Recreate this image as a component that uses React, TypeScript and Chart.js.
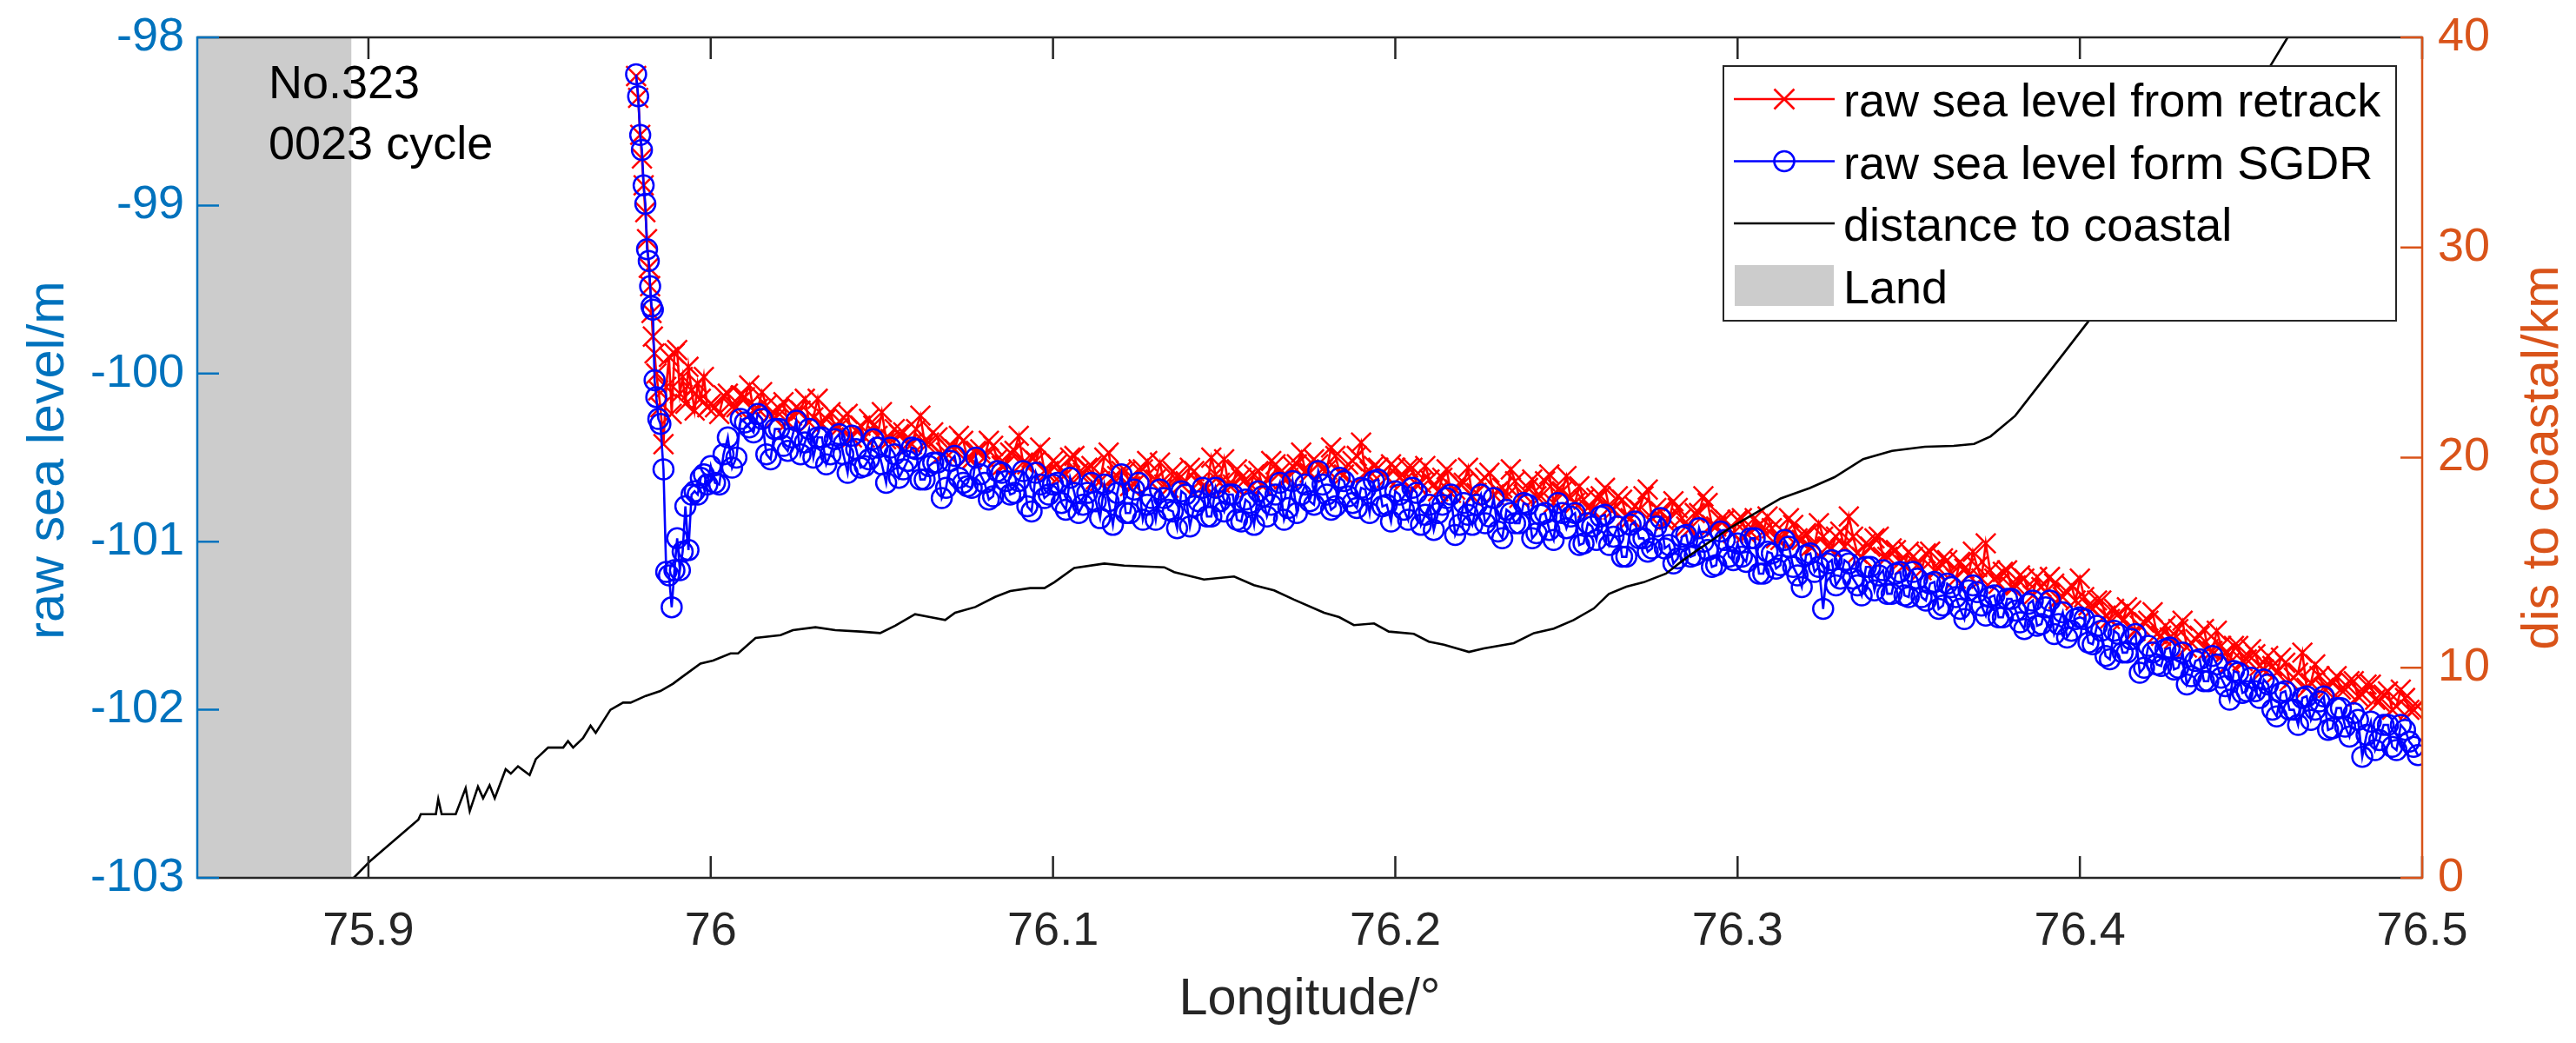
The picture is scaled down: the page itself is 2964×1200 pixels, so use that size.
import React, { useEffect, useRef } from "react";
import { Chart, registerables } from "chart.js";

Chart.register(...registerables);

// ---------------- data ----------------
// along-track longitudes (deg), first pass of samples
const LON = [
  75.9782, 75.9788, 75.9794, 75.9799, 75.9804, 75.9809, 75.9814, 75.9819, 75.9823, 75.9827,
  75.9831, 75.9836, 75.9841, 75.9847, 75.9853, 75.9862, 75.987, 75.9878, 75.9886, 75.9894,
  75.9902, 75.991, 75.9918, 75.9926, 75.9935, 75.9944, 75.9953, 75.9962, 75.9971, 75.998, 75.999,
  76.0, 76.0025, 76.005, 76.0075, 76.01, 76.0125, 76.015, 76.0175, 76.02, 76.0225,
  76.025, 76.0275, 76.03, 76.0325, 76.035, 76.0375, 76.04, 76.0425, 76.045, 76.0475,
  76.05, 76.0525, 76.055, 76.0575, 76.06, 76.0625, 76.065, 76.0675, 76.07, 76.0725,
  76.075, 76.0775, 76.08, 76.0825, 76.085, 76.0875, 76.09, 76.0925, 76.095, 76.0975,
  76.1, 76.1025, 76.105, 76.1075, 76.11, 76.1125, 76.115, 76.1175, 76.12, 76.1225,
  76.125, 76.1275, 76.13, 76.1325, 76.135, 76.1375, 76.14, 76.1425, 76.145, 76.1475,
  76.15, 76.1525, 76.155, 76.1575, 76.16, 76.1625, 76.165, 76.1675, 76.17, 76.1725,
  76.175, 76.1775, 76.18, 76.1825, 76.185, 76.1875, 76.19, 76.1925, 76.195, 76.1975,
  76.2, 76.2025, 76.205, 76.2075, 76.21, 76.2125, 76.215, 76.2175, 76.22, 76.2225,
  76.225, 76.2275, 76.23, 76.2325, 76.235, 76.2375, 76.24, 76.2425, 76.245, 76.2475,
  76.25, 76.2525, 76.255, 76.2575, 76.26, 76.2625, 76.265, 76.2675, 76.27, 76.2725,
  76.275, 76.2775, 76.28, 76.2825, 76.285, 76.2875, 76.29, 76.2925, 76.295, 76.2975,
  76.3, 76.3025, 76.305, 76.3075, 76.31, 76.3125, 76.315, 76.3175, 76.32, 76.3225,
  76.325, 76.3275, 76.33, 76.3325, 76.335, 76.3375, 76.34, 76.3425, 76.345, 76.3475,
  76.35, 76.3525, 76.355, 76.3575, 76.36, 76.3625, 76.365, 76.3675, 76.37, 76.3725,
  76.375, 76.3775, 76.38, 76.3825, 76.385, 76.3875, 76.39, 76.3925, 76.395, 76.3975,
  76.4, 76.4025, 76.405, 76.4075, 76.41, 76.4125, 76.415, 76.4175, 76.42, 76.4225,
  76.425, 76.4275, 76.43, 76.4325, 76.435, 76.4375, 76.44, 76.4425, 76.445, 76.4475,
  76.45, 76.4525, 76.455, 76.4575, 76.46, 76.4625, 76.465, 76.4675, 76.47, 76.4725,
  76.475, 76.4775, 76.48, 76.4825, 76.485, 76.4875, 76.49, 76.4925, 76.495, 76.4975,
];

// raw sea level from retrack (m), first pass
const RETRACK = [
  -98.23, -98.36, -98.58, -98.72, -98.88, -99.04, -99.2, -99.37, -99.48, -99.64,
  -99.78, -99.88, -100.0, -100.1, -100.2, -100.42, -100.08, -99.9, -100.24, -99.88,
  -99.86, -100.12, -100.02, -100.18, -99.96, -100.1, -100.22, -100.06, -100.15, -100.02, -100.2,
  -100.18, -100.24, -100.12, -100.2, -100.14, -100.22, -100.11, -100.24, -100.21, -100.29,
  -100.2, -100.15, -100.26, -100.3, -100.23, -100.32, -100.24, -100.34, -100.38, -100.31,
  -100.23, -100.39, -100.36, -100.42, -100.33, -100.41, -100.35, -100.48, -100.43, -100.37,
  -100.5, -100.46, -100.5, -100.43, -100.55, -100.47, -100.37, -100.54, -100.52, -100.58,
  -100.52, -100.6, -100.5, -100.59, -100.56, -100.63, -100.5, -100.62, -100.58, -100.67,
  -100.57, -100.52, -100.63, -100.66, -100.58, -100.66, -100.56, -100.65, -100.68, -100.6,
  -100.51, -100.66, -100.62, -100.68, -100.58, -100.63, -100.54, -100.63, -100.55, -100.47,
  -100.59, -100.54, -100.57, -100.49, -100.6, -100.52, -100.41, -100.58, -100.56, -100.62,
  -100.56, -100.64, -100.56, -100.65, -100.63, -100.7, -100.57, -100.69, -100.65, -100.73,
  -100.64, -100.59, -100.7, -100.73, -100.64, -100.72, -100.63, -100.73, -100.6, -100.69,
  -100.61, -100.77, -100.75, -100.81, -100.73, -100.8, -100.73, -100.85, -100.79, -100.73,
  -100.86, -100.82, -100.87, -100.8, -100.91, -100.83, -100.73, -100.9, -100.87, -100.93,
  -100.87, -100.95, -100.86, -100.94, -100.92, -100.99, -100.86, -100.98, -100.95, -101.02,
  -100.97, -101.04, -100.94, -100.85, -101.07, -101.01, -100.98, -101.09, -101.04, -101.12,
  -101.06, -101.14, -101.07, -101.17, -101.1, -101.19, -101.12, -101.2, -101.15, -101.01,
  -101.22, -101.18, -101.27, -101.2, -101.29, -101.21, -101.3, -101.25, -101.33, -101.26,
  -101.22, -101.38, -101.35, -101.44, -101.4, -101.47, -101.41, -101.5, -101.47, -101.55,
  -101.5, -101.58, -101.47, -101.6, -101.56, -101.64, -101.53, -101.66, -101.62, -101.71,
  -101.64, -101.74, -101.68, -101.78, -101.72, -101.81, -101.66, -101.84, -101.8, -101.87,
  -101.8, -101.88, -101.83, -101.91, -101.85, -101.95, -101.89, -101.98, -101.93, -102.0,
];

// raw sea level from SGDR (m), first pass
const SGDR = [
  -98.22, -98.35, -98.58, -98.67, -98.88, -98.99, -99.26, -99.33, -99.48, -99.6,
  -99.62, -100.04, -100.14, -100.27, -100.3, -100.57, -101.18, -101.2, -101.39, -101.17,
  -100.98, -101.17, -101.06, -100.79, -101.05, -100.72, -100.7, -100.72, -100.62, -100.6, -100.66,
  -100.55, -100.66, -100.38, -100.5, -100.29, -100.35, -100.27, -100.51, -100.33, -100.46,
  -100.28, -100.41, -100.5, -100.38, -100.48, -100.36, -100.59, -100.45, -100.55, -100.39,
  -100.54, -100.44, -100.62, -100.52, -100.45, -100.63, -100.53, -100.74, -100.52, -100.62,
  -100.67, -100.5, -100.65, -100.73, -100.59, -100.72, -100.64, -100.79, -100.59, -100.74,
  -100.66, -100.77, -100.62, -100.83, -100.71, -100.76, -100.66, -100.9, -100.6, -100.83,
  -100.65, -100.78, -100.87, -100.74, -100.82, -100.7, -100.91, -100.76, -100.85, -100.68,
  -100.82, -100.72, -100.88, -100.77, -100.7, -100.85, -100.72, -100.87, -100.64, -100.72,
  -100.76, -100.58, -100.72, -100.79, -100.64, -100.77, -100.68, -100.83, -100.63, -100.78,
  -100.7, -100.81, -100.68, -100.9, -100.78, -100.83, -100.74, -100.96, -100.77, -100.9,
  -100.72, -100.85, -100.94, -100.81, -100.89, -100.77, -100.98, -100.84, -100.93, -100.77,
  -100.92, -100.83, -101.01, -100.91, -100.85, -101.02, -100.91, -101.09, -100.88, -100.98,
  -101.04, -100.86, -101.02, -101.1, -100.96, -101.08, -101.0, -101.15, -100.94, -101.09,
  -101.01, -101.12, -100.98, -101.19, -101.07, -101.14, -101.03, -101.2, -101.08, -101.18,
  -101.4, -101.11, -101.22, -101.13, -101.26, -101.15, -101.29, -101.17, -101.31, -101.18,
  -101.33, -101.22, -101.35, -101.24, -101.38, -101.27, -101.4, -101.29, -101.3, -101.44,
  -101.32, -101.45, -101.34, -101.48, -101.37, -101.5, -101.39, -101.55, -101.42, -101.53,
  -101.45, -101.6, -101.5, -101.68, -101.53, -101.66, -101.58, -101.78, -101.62, -101.73,
  -101.64, -101.76, -101.66, -101.8, -101.7, -101.83, -101.73, -101.86, -101.77, -101.9,
  -101.81, -101.93, -101.85, -102.04, -101.89, -102.0, -101.93, -102.06, -101.95, -102.12,
  -101.99, -102.1, -102.02, -102.28, -102.07, -102.18, -102.09, -102.24, -102.12, -102.22,
];

// second pass of samples, between the first-pass longitudes
const LON_B = [
  76.00125, 76.00375, 76.00625, 76.00875, 76.01125, 76.01375, 76.01625, 76.01875, 76.02125, 76.02375,
  76.02625, 76.02875, 76.03125, 76.03375, 76.03625, 76.03875, 76.04125, 76.04375, 76.04625, 76.04875,
  76.05125, 76.05375, 76.05625, 76.05875, 76.06125, 76.06375, 76.06625, 76.06875, 76.07125, 76.07375,
  76.07625, 76.07875, 76.08125, 76.08375, 76.08625, 76.08875, 76.09125, 76.09375, 76.09625, 76.09875,
  76.10125, 76.10375, 76.10625, 76.10875, 76.11125, 76.11375, 76.11625, 76.11875, 76.12125, 76.12375,
  76.12625, 76.12875, 76.13125, 76.13375, 76.13625, 76.13875, 76.14125, 76.14375, 76.14625, 76.14875,
  76.15125, 76.15375, 76.15625, 76.15875, 76.16125, 76.16375, 76.16625, 76.16875, 76.17125, 76.17375,
  76.17625, 76.17875, 76.18125, 76.18375, 76.18625, 76.18875, 76.19125, 76.19375, 76.19625, 76.19875,
  76.20125, 76.20375, 76.20625, 76.20875, 76.21125, 76.21375, 76.21625, 76.21875, 76.22125, 76.22375,
  76.22625, 76.22875, 76.23125, 76.23375, 76.23625, 76.23875, 76.24125, 76.24375, 76.24625, 76.24875,
  76.25125, 76.25375, 76.25625, 76.25875, 76.26125, 76.26375, 76.26625, 76.26875, 76.27125, 76.27375,
  76.27625, 76.27875, 76.28125, 76.28375, 76.28625, 76.28875, 76.29125, 76.29375, 76.29625, 76.29875,
  76.30125, 76.30375, 76.30625, 76.30875, 76.31125, 76.31375, 76.31625, 76.31875, 76.32125, 76.32375,
  76.32625, 76.32875, 76.33125, 76.33375, 76.33625, 76.33875, 76.34125, 76.34375, 76.34625, 76.34875,
  76.35125, 76.35375, 76.35625, 76.35875, 76.36125, 76.36375, 76.36625, 76.36875, 76.37125, 76.37375,
  76.37625, 76.37875, 76.38125, 76.38375, 76.38625, 76.38875, 76.39125, 76.39375, 76.39625, 76.39875,
  76.40125, 76.40375, 76.40625, 76.40875, 76.41125, 76.41375, 76.41625, 76.41875, 76.42125, 76.42375,
  76.42625, 76.42875, 76.43125, 76.43375, 76.43625, 76.43875, 76.44125, 76.44375, 76.44625, 76.44875,
  76.45125, 76.45375, 76.45625, 76.45875, 76.46125, 76.46375, 76.46625, 76.46875, 76.47125, 76.47375,
  76.47625, 76.47875, 76.48125, 76.48375, 76.48625, 76.48875, 76.49125, 76.49375, 76.49625, 76.49875,
];

const RETRACK_B = [
  -100.2, -100.13, -100.2, -100.13, -100.07, -100.21, -100.19, -100.27, -100.17, -100.25,
  -100.22, -100.29, -100.15, -100.27, -100.32, -100.26, -100.38, -100.31, -100.27, -100.37,
  -100.39, -100.33, -100.35, -100.42, -100.25, -100.41, -100.38, -100.47, -100.45, -100.4,
  -100.51, -100.45, -100.4, -100.51, -100.54, -100.46, -100.53, -100.5, -100.44, -100.58,
  -100.54, -100.6, -100.49, -100.59, -100.55, -100.64, -100.47, -100.61, -100.58, -100.66,
  -100.57, -100.65, -100.53, -100.68, -100.61, -100.64, -100.58, -100.67, -100.5, -100.65,
  -100.66, -100.57, -100.63, -100.6, -100.67, -100.52, -100.59, -100.62, -100.54, -100.58,
  -100.51, -100.57, -100.44, -100.59, -100.54, -100.49, -100.59, -100.55, -100.59, -100.54,
  -100.62, -100.56, -100.66, -100.55, -100.66, -100.62, -100.71, -100.65, -100.56, -100.71,
  -100.62, -100.72, -100.68, -100.57, -100.74, -100.68, -100.73, -100.64, -100.77, -100.7,
  -100.74, -100.67, -100.8, -100.74, -100.68, -100.81, -100.75, -100.86, -100.81, -100.69,
  -100.8, -100.88, -100.76, -100.86, -100.92, -100.83, -100.77, -100.91, -100.87, -100.95,
  -100.86, -100.94, -100.9, -100.85, -100.98, -100.95, -100.9, -100.99, -101.03, -100.89,
  -101.03, -100.97, -101.03, -100.97, -101.09, -101.03, -100.97, -101.09, -101.05, -101.14,
  -101.09, -101.17, -101.06, -101.16, -101.11, -101.22, -101.16, -101.06, -101.22, -101.17,
  -101.25, -101.17, -101.26, -101.22, -101.32, -101.27, -101.21, -101.34, -101.3, -101.35,
  -101.33, -101.4, -101.35, -101.46, -101.43, -101.39, -101.53, -101.48, -101.42, -101.56,
  -101.57, -101.52, -101.63, -101.58, -101.52, -101.65, -101.62, -101.72, -101.62, -101.7,
  -101.67, -101.76, -101.74, -101.69, -101.83, -101.78, -101.87, -101.73, -101.87, -101.84,
  -101.88, -101.83, -101.92, -101.85, -101.94, -101.91, -102.0, -101.88, -102.0, -101.98,
];

const SGDR_B = [
  -100.65, -100.48, -100.56, -100.27, -100.32, -100.24, -100.48, -100.33, -100.43, -100.38,
  -100.48, -100.33, -100.38, -100.54, -100.39, -100.48, -100.37, -100.56, -100.51, -100.44,
  -100.65, -100.48, -100.57, -100.44, -100.63, -100.55, -100.53, -100.68, -100.49, -100.65,
  -100.68, -100.6, -100.75, -100.58, -100.64, -100.71, -100.58, -100.82, -100.66, -100.72,
  -100.65, -100.81, -100.71, -100.78, -100.65, -100.86, -100.76, -100.71, -100.83, -100.69,
  -100.87, -100.74, -100.69, -100.81, -100.92, -100.72, -100.79, -100.68, -100.85, -100.76,
  -100.72, -100.87, -100.75, -100.9, -100.73, -100.78, -100.65, -100.8, -100.83, -100.66,
  -100.78, -100.66, -100.81, -100.62, -100.73, -100.8, -100.69, -100.64, -100.79, -100.88,
  -100.72, -100.87, -100.71, -100.84, -100.93, -100.78, -100.72, -100.9, -100.84, -100.78,
  -100.89, -100.74, -100.98, -100.83, -100.89, -100.78, -100.95, -100.83, -100.99, -100.83,
  -100.85, -101.02, -100.89, -100.99, -100.84, -100.97, -101.09, -100.9, -100.98, -101.06,
  -100.91, -101.04, -101.13, -100.97, -101.09, -100.92, -101.05, -101.14, -100.99, -101.11,
  -101.09, -100.98, -101.19, -101.06, -101.16, -100.99, -101.15, -101.27, -101.07, -101.15,
  -101.13, -101.26, -101.11, -101.22, -101.32, -101.15, -101.2, -101.31, -101.19, -101.32,
  -101.18, -101.33, -101.25, -101.4, -101.25, -101.33, -101.46, -101.26, -101.38, -101.33,
  -101.45, -101.34, -101.41, -101.52, -101.35, -101.49, -101.35, -101.49, -101.57, -101.46,
  -101.46, -101.61, -101.53, -101.7, -101.55, -101.66, -101.55, -101.75, -101.66, -101.74,
  -101.63, -101.75, -101.85, -101.71, -101.83, -101.68, -101.81, -101.94, -101.78, -101.89,
  -101.89, -101.82, -102.0, -101.9, -102.0, -102.09, -101.92, -102.0, -101.92, -102.11,
  -101.99, -102.16, -102.06, -102.15, -102.24, -102.09, -102.22, -102.09, -102.19, -102.27,
];

// distance to coastal: [longitude, km]
const DISTANCE = [
  [75.8957, 0.0], [75.9007, 0.83], [75.9146, 2.77], [75.9153, 3.03], [75.9197, 3.03],
  [75.9204, 3.75], [75.9214, 3.03], [75.9255, 3.03], [75.9284, 4.27], [75.9296, 3.17],
  [75.932, 4.34], [75.9335, 3.79], [75.9354, 4.41], [75.9369, 3.79], [75.9401, 5.17],
  [75.9416, 4.96], [75.9437, 5.31], [75.9471, 4.89], [75.9489, 5.65], [75.9525, 6.2],
  [75.9569, 6.2], [75.9583, 6.51], [75.9598, 6.2], [75.9627, 6.65], [75.9649, 7.24],
  [75.9664, 6.9], [75.9707, 8.0], [75.9744, 8.34], [75.9766, 8.34], [75.981, 8.66],
  [75.9853, 8.89], [75.989, 9.24], [75.9912, 9.51], [75.997, 10.2], [76.0007, 10.34],
  [76.0058, 10.68], [76.008, 10.68], [76.0131, 11.42], [76.0204, 11.55], [76.024, 11.79],
  [76.0306, 11.93], [76.0364, 11.79], [76.0437, 11.72], [76.0495, 11.65], [76.0539, 12.0],
  [76.0597, 12.55], [76.0641, 12.41], [76.0685, 12.27], [76.0714, 12.62], [76.0773, 12.89],
  [76.0831, 13.37], [76.0875, 13.65], [76.0933, 13.79], [76.0975, 13.79], [76.1004, 14.07],
  [76.1062, 14.75], [76.115, 14.96], [76.1208, 14.86], [76.1325, 14.78], [76.1354, 14.55],
  [76.1441, 14.2], [76.1529, 14.34], [76.1587, 13.93], [76.1646, 13.68], [76.1704, 13.24],
  [76.1792, 12.62], [76.1836, 12.41], [76.1879, 12.03], [76.1938, 12.11], [76.1981, 11.72],
  [76.2054, 11.61], [76.2098, 11.24], [76.2142, 11.1], [76.2186, 10.89], [76.2215, 10.75],
  [76.2259, 10.92], [76.2346, 11.17], [76.2405, 11.65], [76.2463, 11.86], [76.2521, 12.27],
  [76.258, 12.82], [76.2624, 13.51], [76.2675, 13.86], [76.2726, 14.07], [76.2791, 14.48],
  [76.2834, 15.03], [76.2857, 15.31], [76.298, 16.68], [76.3126, 18.06], [76.3211, 18.55],
  [76.3283, 19.07], [76.3367, 19.93], [76.3451, 20.32], [76.3547, 20.52], [76.3631, 20.56],
  [76.3691, 20.65], [76.3739, 21.01], [76.3811, 21.99], [76.3883, 23.5], [76.3955, 25.01],
  [76.4027, 26.53], [76.43, 32.2], [76.445, 35.5], [76.4556, 38.63], [76.4607, 40.0],
  [76.468, 41.6],
];

const X_TICKS = [75.9, 76, 76.1, 76.2, 76.3, 76.4, 76.5];
const X_TICK_LABELS = ["75.9", "76", "76.1", "76.2", "76.3", "76.4", "76.5"];
const Y_LEFT_TICKS = [-103, -102, -101, -100, -99, -98];
const Y_RIGHT_TICKS = [0, 10, 20, 30, 40];
const LAND_RANGE = [75.85, 75.895];
const SERIES_NAMES = [
  "raw sea level from retrack",
  "raw sea level form SGDR",
  "distance to coastal",
  "Land",
];
const ANNOTATION = ["No.323", "0023 cycle"];

// ---------------- styles ----------------
const FONT = "'Liberation Sans', Arial, Helvetica, sans-serif";
const LEFT_COLOR = "#0072BD";
const RIGHT_COLOR = "#D95319";
const DARK = "#262626";
const RED = "#FF0000";
const BLUE = "#0000FF";
const LAND_COLOR = "#CCCCCC";
const TICK_LEN = 25;

const matlabAxes = {
  id: "matlabAxes",
  beforeDatasetsDraw(chart: any) {
    const { ctx, chartArea: a, scales } = chart;
    const x0 = scales.x.getPixelForValue(LAND_RANGE[0]);
    const x1 = scales.x.getPixelForValue(LAND_RANGE[1]);
    ctx.save();
    ctx.fillStyle = LAND_COLOR;
    ctx.fillRect(x0, a.top, x1 - x0, a.bottom - a.top);
    ctx.restore();
  },
  afterDatasetsDraw(chart: any) {
    const { ctx, chartArea: a, scales } = chart;
    const xs = scales.x;
    const yl = scales.y;
    const yr = scales.y1;
    ctx.save();
    ctx.lineCap = "butt";
    ctx.lineWidth = 2.5;

    ctx.strokeStyle = DARK;
    ctx.beginPath();
    ctx.moveTo(a.left, a.top);
    ctx.lineTo(a.right, a.top);
    ctx.moveTo(a.left, a.bottom);
    ctx.lineTo(a.right, a.bottom);
    for (const v of X_TICKS) {
      const px = xs.getPixelForValue(v);
      ctx.moveTo(px, a.bottom);
      ctx.lineTo(px, a.bottom - TICK_LEN);
      ctx.moveTo(px, a.top);
      ctx.lineTo(px, a.top + TICK_LEN);
    }
    ctx.stroke();

    ctx.strokeStyle = LEFT_COLOR;
    ctx.beginPath();
    ctx.moveTo(a.left, a.top - 1.25);
    ctx.lineTo(a.left, a.bottom + 1.25);
    for (const v of Y_LEFT_TICKS) {
      const py = yl.getPixelForValue(v);
      ctx.moveTo(a.left, py);
      ctx.lineTo(a.left + TICK_LEN, py);
    }
    ctx.stroke();

    ctx.strokeStyle = RIGHT_COLOR;
    ctx.beginPath();
    ctx.moveTo(a.right, a.top - 1.25);
    ctx.lineTo(a.right, a.bottom + 1.25);
    for (const v of Y_RIGHT_TICKS) {
      const py = yr.getPixelForValue(v);
      ctx.moveTo(a.right, py);
      ctx.lineTo(a.right - TICK_LEN, py);
    }
    ctx.stroke();

    ctx.font = `54px ${FONT}`;
    ctx.fillStyle = DARK;
    ctx.textAlign = "center";
    ctx.textBaseline = "alphabetic";
    X_TICKS.forEach((v, i) => {
      ctx.fillText(X_TICK_LABELS[i], xs.getPixelForValue(v), a.bottom + 77);
    });
    ctx.fillStyle = LEFT_COLOR;
    ctx.textAlign = "right";
    ctx.textBaseline = "middle";
    Y_LEFT_TICKS.forEach((v) => {
      ctx.fillText(String(v), a.left - 15, yl.getPixelForValue(v));
    });
    ctx.fillStyle = RIGHT_COLOR;
    ctx.textAlign = "left";
    Y_RIGHT_TICKS.forEach((v) => {
      ctx.fillText(String(v), a.right + 18, yr.getPixelForValue(v));
    });

    const midY = (a.top + a.bottom) / 2;
    ctx.font = `59.4px ${FONT}`;
    ctx.textAlign = "center";
    ctx.textBaseline = "alphabetic";
    ctx.fillStyle = DARK;
    ctx.fillText("Longitude/°", (a.left + a.right) / 2, a.bottom + 157);

    ctx.save();
    ctx.fillStyle = LEFT_COLOR;
    ctx.translate(a.left - 154, midY + 3);
    ctx.rotate(-Math.PI / 2);
    ctx.fillText("raw sea level/m", 0, 0);
    ctx.restore();

    ctx.save();
    ctx.fillStyle = RIGHT_COLOR;
    ctx.translate(a.right + 156, midY);
    ctx.rotate(-Math.PI / 2);
    ctx.fillText("dis to coastal/km", 0, 0);
    ctx.restore();

    ctx.font = `54px ${FONT}`;
    ctx.fillStyle = "#000000";
    ctx.textAlign = "left";
    ctx.fillText(ANNOTATION[0], a.left + 82, a.top + 70);
    ctx.fillText(ANNOTATION[1], a.left + 82, a.top + 140);
    ctx.restore();
  },
  afterDraw(chart: any) {
    const { ctx, chartArea: a } = chart;
    const bw = 774;
    const bh = 293;
    const bx = a.right - 30 - bw;
    const by = a.top + 33;
    ctx.save();
    ctx.fillStyle = "#FFFFFF";
    ctx.fillRect(bx, by, bw, bh);
    ctx.strokeStyle = DARK;
    ctx.lineWidth = 2;
    ctx.strokeRect(bx, by, bw, bh);

    const lx0 = bx + 12;
    const lx1 = bx + 128;
    const mx = bx + 70;
    const tx = bx + 138;
    ctx.font = `54px ${FONT}`;
    ctx.textAlign = "left";
    ctx.textBaseline = "alphabetic";

    for (let i = 0; i < 4; i++) {
      const ry = by + 38 + i * 71.5;
      if (i < 3) {
        const col = i === 0 ? RED : i === 1 ? BLUE : "#000000";
        ctx.strokeStyle = col;
        ctx.lineWidth = 2.6;
        ctx.beginPath();
        ctx.moveTo(lx0, ry);
        ctx.lineTo(lx1, ry);
        ctx.stroke();
        if (i === 0) {
          const h = 11.5;
          ctx.beginPath();
          ctx.moveTo(mx - h, ry - h);
          ctx.lineTo(mx + h, ry + h);
          ctx.moveTo(mx - h, ry + h);
          ctx.lineTo(mx + h, ry - h);
          ctx.stroke();
        } else if (i === 1) {
          ctx.beginPath();
          ctx.arc(mx, ry, 11.5, 0, Math.PI * 2);
          ctx.stroke();
        }
      } else {
        ctx.fillStyle = LAND_COLOR;
        ctx.fillRect(lx0 + 1, ry - 23.5, 114, 47);
      }
      ctx.fillStyle = "#000000";
      ctx.fillText(SERIES_NAMES[i], tx, ry + 20);
    }
    ctx.restore();
  },
};

function pts(xs: number[], ys: number[]) {
  const n = Math.min(xs.length, ys.length);
  const out: { x: number; y: number }[] = [];
  for (let i = 0; i < n; i++) out.push({ x: xs[i], y: ys[i] });
  return out;
}

function merged(xa: number[], ya: number[], xb: number[], yb: number[]) {
  return pts(xa, ya).concat(pts(xb, yb)).sort((p, q) => p.x - q.x);
}

export default function App() {
  const canvasRef = useRef<HTMLCanvasElement | null>(null);

  useEffect(() => {
    const canvas = canvasRef.current;
    if (!canvas) return;
    const chart = new Chart(canvas, {
      type: "scatter",
      data: {
        datasets: [
          {
            label: SERIES_NAMES[0],
            data: merged(LON, RETRACK, LON_B, RETRACK_B),
            yAxisID: "y",
            showLine: true,
            borderColor: RED,
            borderWidth: 2.6,
            pointStyle: "crossRot",
            pointRadius: 16,
            pointBorderColor: RED,
            pointBorderWidth: 2.5,
            pointBackgroundColor: "rgba(0,0,0,0)",
            order: 3,
          },
          {
            label: SERIES_NAMES[1],
            data: merged(LON, SGDR, LON_B, SGDR_B),
            yAxisID: "y",
            showLine: true,
            borderColor: BLUE,
            borderWidth: 2.6,
            pointStyle: "circle",
            pointRadius: 11.5,
            pointBorderColor: BLUE,
            pointBorderWidth: 2.5,
            pointBackgroundColor: "rgba(0,0,0,0)",
            order: 2,
          },
          {
            label: SERIES_NAMES[2],
            data: DISTANCE.map((p) => ({ x: p[0], y: p[1] })),
            yAxisID: "y1",
            showLine: true,
            borderColor: "#000000",
            borderWidth: 2.6,
            pointRadius: 0,
            order: 1,
          },
        ],
      },
      options: {
        responsive: false,
        maintainAspectRatio: false,
        devicePixelRatio: 1,
        animation: false,
        events: [],
        layout: { padding: { left: 227, right: 177, top: 43, bottom: 190 } },
        elements: { line: { tension: 0 } },
        plugins: {
          legend: { display: false },
          tooltip: { enabled: false },
          title: { display: false },
        },
        scales: {
          x: { type: "linear", min: 75.85, max: 76.5, display: false },
          y: { type: "linear", position: "left", min: -103, max: -98, display: false },
          y1: { type: "linear", position: "right", min: 0, max: 40, display: false },
        },
      },
      plugins: [matlabAxes],
    } as any);
    return () => chart.destroy();
  }, []);

  return (
    <div style={{ position: "absolute", left: 0, top: 0, width: 2964, height: 1200, background: "#fff" }}>
      <canvas ref={canvasRef} width={2964} height={1200} style={{ width: 2964, height: 1200, display: "block" }} />
    </div>
  );
}
